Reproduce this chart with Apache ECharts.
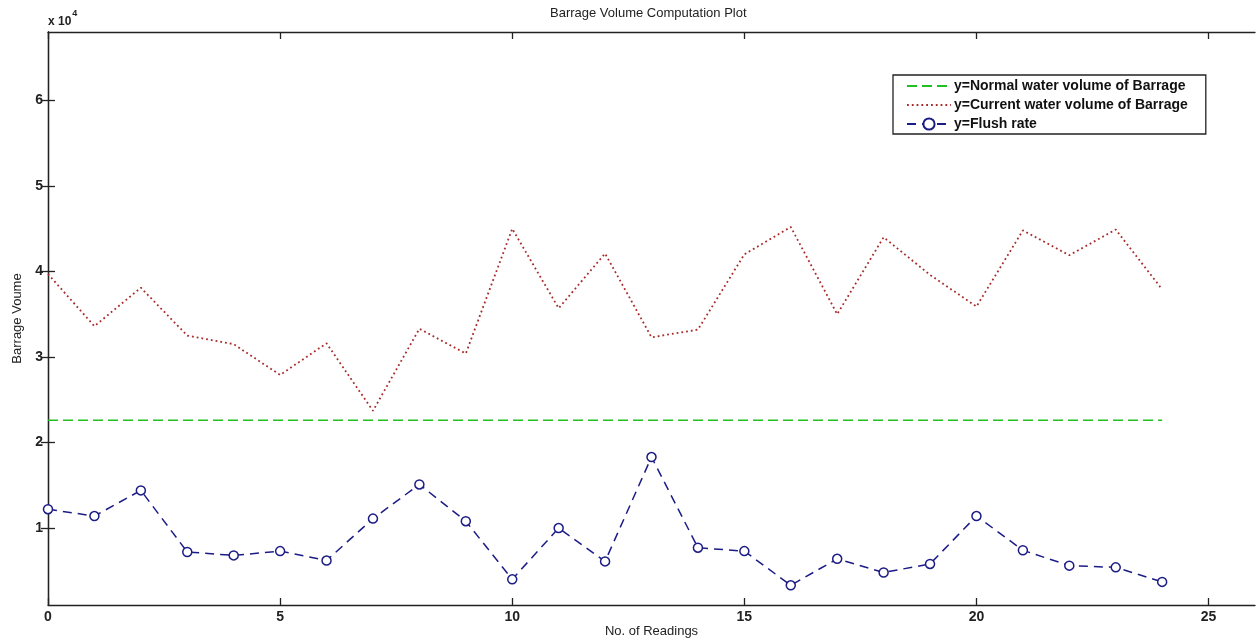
<!DOCTYPE html>
<html>
<head>
<meta charset="utf-8">
<script src="https://cdn.jsdelivr.net/npm/echarts@6/dist/echarts.min.js"></script>
<style>html,body{margin:0;padding:0;background:#fff}#c{width:1258px;height:640px}</style>
</head>
<body>
<div id="c"></div>
<script>
var readings = [0,1,2,3,4,5,6,7,8,9,10,11,12,13,14,15,16,17,18,19,20,21,22,23,24];
var normalVolume = 22600;
var currentVolume = [39700,33600,38100,32500,31500,27900,31600,23700,33300,30400,45000,35700,42100,32300,33200,42000,45200,35000,44000,39600,35900,44800,41900,44900,37900];
var flushRate = [12200,11400,14400,7200,6800,7300,6200,11100,15100,10800,4000,10000,6100,18300,7700,7300,3300,6400,4800,5800,11400,7400,5600,5400,3700];
var xTicks = [0,5,10,15,20,25];
var yTicks = [10000,20000,30000,40000,50000,60000];

var normalData = readings.map(function(r){return [r, normalVolume];});
var currentData = readings.map(function(r,i){return [r, currentVolume[i]];});
var flushData = readings.map(function(r,i){return [r, flushRate[i]];});

var font = 'Liberation Sans, Arial, sans-serif';
var chart = echarts.init(document.getElementById('c'));
var baseX = {
  type:'value', min:0, max:26,
  axisLine:{lineStyle:{color:'#222',width:1.3}},
  axisTick:{inside:true,length:7,customValues:xTicks,lineStyle:{color:'#222',width:1.3}},
  splitLine:{show:false}
};
var baseY = {
  type:'value', min:1000, max:68000,
  axisLine:{lineStyle:{color:'#222',width:1.3}},
  axisTick:{inside:true,length:7,customValues:yTicks,lineStyle:{color:'#222',width:1.3}},
  splitLine:{show:false}
};
chart.setOption({
  animation:false,
  title:{text:'Barrage Volume Computation Plot',left:545,top:2,
    textStyle:{fontFamily:font,fontSize:13,fontWeight:'normal',color:'#222'}},
  grid:{left:48,right:3,top:32,bottom:35,containLabel:false,outerBoundsMode:'none'},
  legend:{
    orient:'vertical', left:893, top:75, width:314,
    padding:[4,18,3,13], itemGap:5, itemWidth:44, itemHeight:14,
    borderColor:'#222', borderWidth:1.3, backgroundColor:'#fff',
    textStyle:{fontFamily:font,fontSize:14,fontWeight:'bold',color:'#111',padding:[0,0,0,-2]},
    data:[
      {name:'y=Normal water volume of Barrage',itemStyle:{opacity:0}},
      {name:'y=Current water volume of Barrage',itemStyle:{opacity:0}},
      {name:'y=Flush rate'}
    ]
  },
  xAxis:[
    Object.assign({},baseX,{position:'bottom',name:'No. of Readings',nameLocation:'middle',nameGap:20,nameMoveOverlap:false,
      nameTextStyle:{fontFamily:font,fontSize:13,color:'#222'},
      axisLabel:{customValues:xTicks,margin:5,fontFamily:font,fontSize:14,fontWeight:'bold',color:'#222'}}),
    Object.assign({},baseX,{position:'top',axisLabel:{show:false}})
  ],
  yAxis:[
    Object.assign({},baseY,{position:'left',name:'Barrage Voume',nameLocation:'middle',nameGap:23,
      nameTextStyle:{fontFamily:font,fontSize:13,color:'#222'},
      axisLabel:{customValues:yTicks,margin:5,fontFamily:font,fontSize:14,fontWeight:'bold',color:'#222',
        formatter:function(v){return String(v/10000);}}}),
    Object.assign({},baseY,{position:'right',axisLabel:{show:false}})
  ],
  graphic:[{type:'text',left:48,top:9,style:{
    text:'{a|x 10}{b|4}',fontFamily:font,
    rich:{a:{fontSize:12,fontWeight:'bold',fill:'#222',padding:[7,0,0,0]},b:{fontSize:9,fontWeight:'bold',fill:'#222',verticalAlign:'top',padding:[0,0,7,1]}}
  }}],
  series:[
    {name:'y=Normal water volume of Barrage',type:'line',data:normalData,showSymbol:false,symbol:'none',
      lineStyle:{color:'#1fc01f',width:1.7,type:[10,5]},itemStyle:{color:'#1fc01f'}},
    {name:'y=Current water volume of Barrage',type:'line',data:currentData,showSymbol:false,symbol:'none',
      lineStyle:{color:'#a82a2a',width:1.8,type:[1.8,3]},itemStyle:{color:'#a82a2a'}},
    {name:'y=Flush rate',type:'line',data:flushData,symbol:'circle',symbolSize:9,
      lineStyle:{color:'#1c1c86',width:1.5,type:[9,6]},
      itemStyle:{color:'#fff',borderColor:'#1c1c86',borderWidth:1.5}}
  ]
});
</script>
</body>
</html>
